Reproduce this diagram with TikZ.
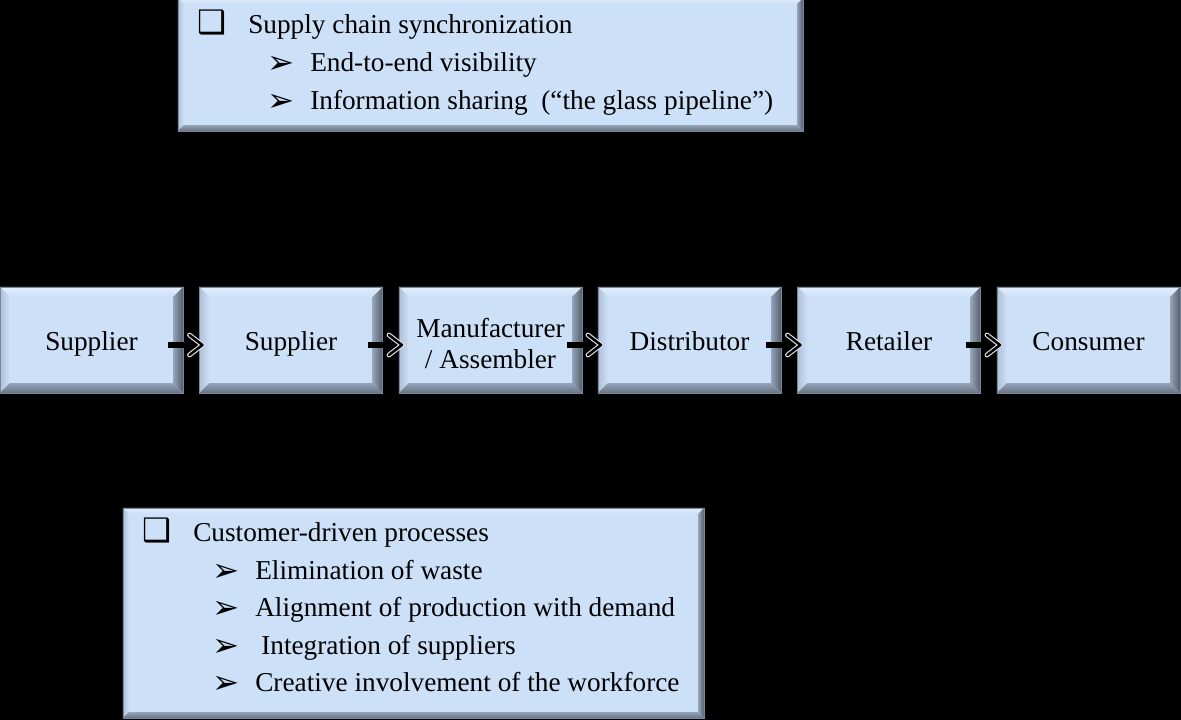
\documentclass[tikz,border=0pt]{standalone}
\usepackage{fontspec}
\setmainfont{Liberation Serif}
\newfontfamily\symfont{DejaVu Sans}
\usetikzlibrary{calc}

\newcommand{\itemfont}{\fontsize{19.4}{22}\selectfont}
\newcommand{\boxmark}{{\symfont\fontsize{23}{23}\selectfont ❑}}
\newcommand{\arrmark}{{\symfont\fontsize{23}{23}\selectfont\raisebox{-1pt}{➢}}}

\begin{document}
\begin{tikzpicture}[x=0.025cm,y=0.025cm]
% ------------------------------------------------ bevel box colors
\definecolor{sc_face}{RGB}{204,224,248}  %#CCE0F8
\definecolor{sc_hi}{RGB}{226,237,251}    %#E2EDFB
\definecolor{sc_lt}{RGB}{176,192,214}    %#B0C0D6
\definecolor{sc_md}{RGB}{150,164,184}    %#96A4B8
\definecolor{sc_dk}{RGB}{84,94,110}      %#545E6E
\definecolor{sc_edge}{RGB}{120,134,152}  %#788698

\tikzset{
  stage/.style={fill=sc_face, inner sep=0, outer sep=0, minimum width=4.575cm,
                minimum height=2.65cm, align=center, font=\itemfont},
  frame/.style={fill=sc_face, inner sep=0, outer sep=0},
  item/.style={anchor=base west, inner sep=0, font=\itemfont},
  shaft/.style={line width=3.6pt},
  barbrim/.style={line width=3.4pt, white!70!sc_md, line join=round, line cap=round},
  barb/.style={line width=1.8pt, black, line join=round, line cap=round}
}

% Syntax: \bevel{node}{depth}
\newcommand{\bevel}[2]{
\shade[top color=sc_hi,bottom color=sc_face] (#1.north west) -- (#1.north east) -- ($(#1.north east)+(-#2,-#2)$) -- ($(#1.north west)+(#2,-#2)$) -- cycle;
\shade[left color=sc_lt,right color=sc_face] (#1.north west) -- ($(#1.north west)+(#2,-#2)$) -- ($(#1.south west)+(#2,#2)$) -- (#1.south west) -- cycle;
\shade[left color=sc_md,right color=sc_dk] (#1.north east) -- (#1.south east) -- ($(#1.south east)+(-#2,#2)$) -- ($(#1.north east)+(-#2,-#2)$) -- cycle;
\shade[top color=sc_md,bottom color=sc_dk!70!sc_md] (#1.south west) -- ($(#1.south west)+(#2,#2)$) -- ($(#1.south east)+(-#2,#2)$) -- (#1.south east) -- cycle;
\draw[sc_edge,line width=0.6pt] (#1.north west) rectangle (#1.south east);
}

\fill[black] (0,0) rectangle (1181,720);
\useasboundingbox (0,0) rectangle (1181,720);

% ------------------------------------------------ top list
\node[frame,minimum width=15.625cm,minimum height=3.325cm] (sync) at (490.5,655.5) {};
\bevel{sync}{6}
\node[item] (sync-head) at (197,686) {\makebox[1.275cm][l]{\boxmark}Supply chain synchronization};
\node[item] (sync-a) at (267,648) {\makebox[1.075cm][l]{\arrmark}End-to-end visibility};
\node[item] (sync-b) at (267,610) {\makebox[1.075cm][l]{\arrmark}Information sharing \ (“the glass pipeline”)};

% ------------------------------------------------ chain
\foreach \n/\x/\txt in {sup1/91.5/Supplier, sup2/291/Supplier, mfg/490.5/{Manufacturer\\/ Assembler},
                        dist/689.5/Distributor, ret/889/Retailer, cons/1088.5/Consumer}
{
  \node[stage] (\n) at (\x,380) {\rule[-4pt]{0pt}{22.4pt}\txt};
  \bevel{\n}{10}
}

\foreach \a/\b in {sup1/sup2, sup2/mfg, mfg/dist, dist/ret, ret/cons}
{
  \coordinate (tip) at ($(\b.west)+(3,-5)$);
  \draw[shaft] ($(\a.east)+(-15,-5)$) -- ($(tip)+(-4,0)$);
  \draw[barbrim] ($(tip)+(-13,10)$) -- (tip) -- ($(tip)+(-13,-10)$);
  \draw[barb] ($(tip)+(-13,10)$) -- (tip) -- ($(tip)+(-13,-10)$);
}

% ------------------------------------------------ bottom list
\node[frame,minimum width=14.525cm,minimum height=5.25cm] (pull) at (413.5,107) {};
\bevel{pull}{6}
\node[item] (pull-head) at (142,178) {\makebox[1.275cm][l]{\boxmark}Customer-driven processes};
\node[item] (pull-a) at (212,140) {\makebox[1.075cm][l]{\arrmark}Elimination of waste};
\node[item] (pull-b) at (212,103) {\makebox[1.075cm][l]{\arrmark}Alignment of production with demand};
\node[item] (pull-c) at (212,65) {\makebox[1.225cm][l]{\arrmark}Integration of suppliers};
\node[item] (pull-d) at (212,28) {\makebox[1.075cm][l]{\arrmark}Creative involvement of the workforce};

\end{tikzpicture}
\end{document}
